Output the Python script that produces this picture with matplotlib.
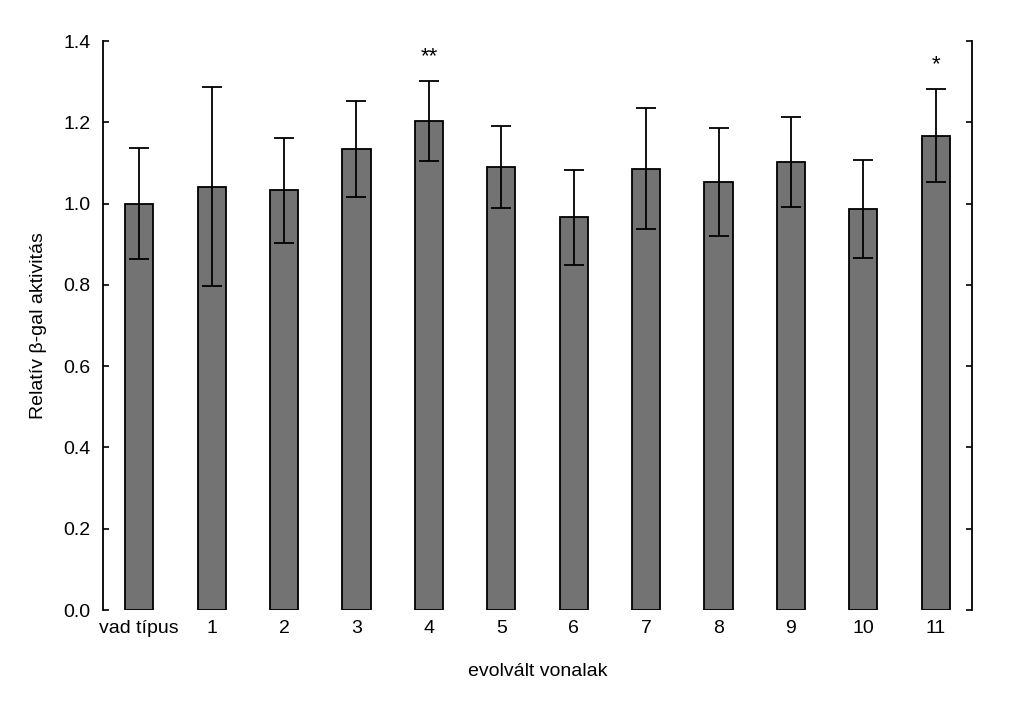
import matplotlib
matplotlib.use("Agg")
import matplotlib.pyplot as plt
import numpy as np

plt.rcParams['font.family'] = ['Liberation Sans', 'DejaVu Sans']

categories = ['vad típus', '1', '2', '3', '4', '5', '6', '7', '8', '9', '10', '11']
values = [1.000, 1.041, 1.033, 1.135, 1.203, 1.091, 0.966, 1.086, 1.053, 1.102, 0.987, 1.167]
errors = [0.137, 0.245, 0.129, 0.118, 0.099, 0.101, 0.117, 0.149, 0.133, 0.111, 0.121, 0.115]
signif = {4: '**', 11: '*'}
yticks = [0.0, 0.2, 0.4, 0.6, 0.8, 1.0, 1.2, 1.4]

fig = plt.figure(figsize=(10.24, 7.01), dpi=100)
ax = fig.add_axes([0.1006, 0.1298, 0.8486, 0.8117])

x = np.arange(len(categories))
ax.bar(x, values, width=0.39, color='#737373', edgecolor='black', linewidth=1.3,
       yerr=errors, error_kw=dict(ecolor='black', elinewidth=1.3, capsize=7, capthick=1.3))

for i, s in signif.items():
    ypos = 1.335 if s == '**' else 1.315
    ax.text(x[i], ypos, s, ha='center', va='bottom', fontsize=16)

ax.set_xlim(-0.5, 11.5)
ax.set_ylim(0, 1.4)
ax.set_yticks(yticks)
ax.set_yticklabels([f'{v:.1f}' for v in yticks], fontsize=14)
ax.set_xticks(x)
ax.set_xticklabels(categories, fontsize=14)
ax.tick_params(axis='x', length=0, pad=7)
ax.tick_params(axis='y', direction='in', length=4, width=1.2, right=True, pad=9)
for side in ['top', 'bottom']:
    ax.spines[side].set_visible(False)
for side in ['left', 'right']:
    ax.spines[side].set_linewidth(1.3)

ax.set_ylabel('Relatív β-gal aktivitás', fontsize=14, labelpad=12)
ax.set_xlabel('evolvált vonalak', fontsize=14, labelpad=19)

fig.savefig('out.png', dpi=100)
